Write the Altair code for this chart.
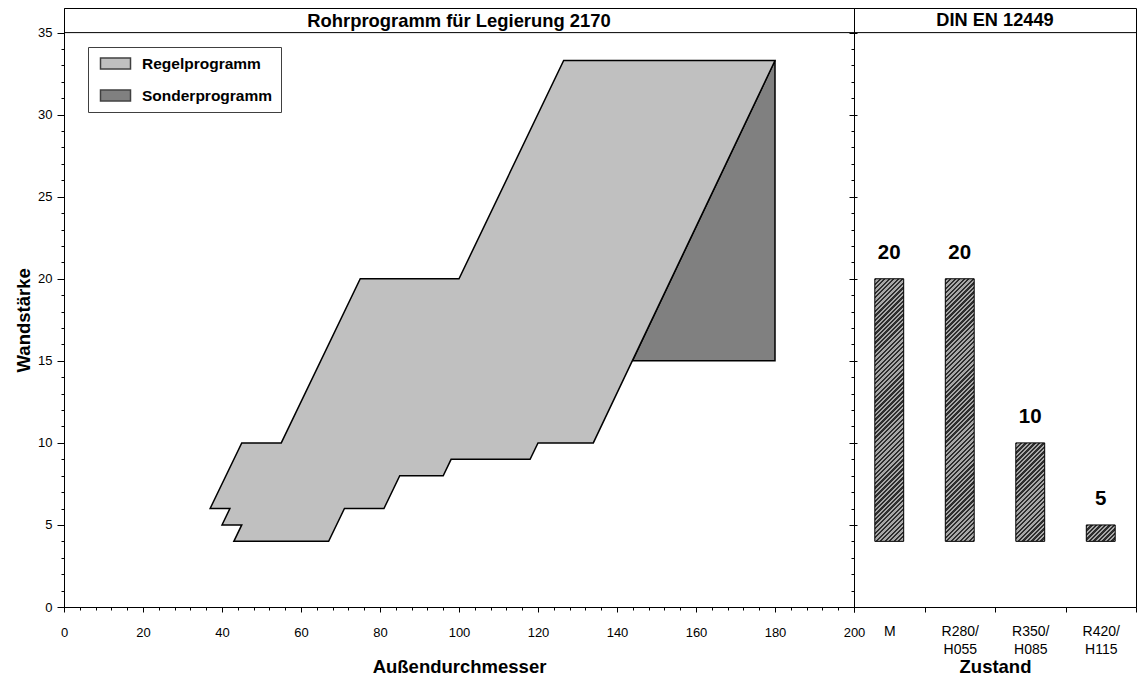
import math
import altair as alt
import pandas as pd

# ---------------- data ----------------
regel_x = [37, 42, 40, 45, 43, 67, 71, 81, 85, 96, 98, 118, 120, 134, 180, 126.5, 100, 75, 55, 45]
regel_y = [6, 6, 5, 5, 4, 4, 6, 6, 8, 8, 9, 9, 10, 10, 33.3, 33.3, 20, 20, 10, 10]
sonder_x = [143.9, 180, 180]
sonder_y = [15, 15, 33.3]
programs = ["Regelprogramm", "Sonderprogramm"]
program_colors = ["#c0c0c0", "#808080"]

zustand = ["M", "R280/H055", "R350/H085", "R420/H115"]
wall_max = [20, 20, 10, 5]
wall_min = [4, 4, 4, 4]

x_major = list(range(0, 201, 20))
x_minor = list(range(0, 201, 4))
y_major = list(range(0, 36, 5))
y_minor = list(range(0, 36, 1))

left_title = "Rohrprogramm für Legierung 2170"
right_title = "DIN EN 12449"
x_title = "Außendurchmesser"
y_title = "Wandstärke"
zustand_title = "Zustand"

# ---------------- layout / style ----------------
FONT = "Liberation Sans"
H = 599
W_LEFT = 790
W_RIGHT = 282
Y_DOMAIN = [0, 36.5]
PX_PER_UNIT = H / (Y_DOMAIN[1] - Y_DOMAIN[0])
BAR_BAND = 0.41
TITLE_SIZE = 18.5

poly = pd.DataFrame({
    "x": regel_x + sonder_x,
    "y": regel_y + sonder_y,
    "program": [programs[0]] * len(regel_x) + [programs[1]] * len(sonder_x),
    "order": list(range(len(regel_x))) + list(range(len(sonder_x))),
})
bars = pd.DataFrame({"zustand": zustand, "wmax": wall_max, "wmin": wall_min})
header_y = pd.DataFrame({"y": [y_major[-1]]})

xs = alt.Scale(domain=[0, 200], nice=False, zero=False)
ys = alt.Scale(domain=Y_DOMAIN, nice=False, zero=False)

legend = alt.Legend(
    title=None, orient="none", legendX=24, legendY=39, direction="vertical",
    symbolType="M-2,-0.72H2V0.72H-2Z", symbolSize=225,
    symbolStrokeColor="#404040", symbolStrokeWidth=1.5,
    symbolOffset=11, labelOffset=18, rowPadding=15, padding=8,
    strokeColor="#404040", fillColor="white",
    labelFontSize=15.5, labelFontWeight="bold", labelFont=FONT, labelColor="black",
)
fill_enc = alt.Fill("program:N", scale=alt.Scale(domain=programs, range=program_colors), legend=legend)

x_axis_major = alt.Axis(values=x_major, orient="bottom", tickSize=5, labelPadding=14, labelFlush=False,
                        labelOverlap=False, title=x_title, titlePadding=18, grid=False)
x_axis_minor = alt.Axis(values=x_minor, orient="bottom", tickSize=3, labels=False, domain=False,
                        title=None, grid=False)
y_axis_major = alt.Axis(values=y_major, orient="left", tickSize=7, labelPadding=5, labelFlush=False,
                        labelOverlap=False, title=y_title, titlePadding=4, grid=False,
                        titleY=(Y_DOMAIN[1] - y_major[-1] / 2) * PX_PER_UNIT)
y_axis_minor = alt.Axis(values=y_minor, orient="left", tickSize=3, labels=False, domain=False,
                        title=None, grid=False)
y_axis_cross = alt.Axis(values=y_major, orient="right", tickSize=3, labels=False, domain=False,
                        title=None, grid=False)

base_poly = alt.Chart(poly).mark_line(interpolate="linear-closed", stroke="black", strokeWidth=1.5,
                                      strokeJoin="miter")

sonder_layer = base_poly.transform_filter(alt.datum.program == programs[1]).encode(
    x=alt.X("x:Q", scale=xs, axis=x_axis_major),
    y=alt.Y("y:Q", scale=ys, axis=y_axis_major),
    order="order:Q",
    fill=fill_enc,
)
regel_layer = base_poly.transform_filter(alt.datum.program == programs[0]).encode(
    x=alt.X("x:Q", scale=xs, axis=x_axis_minor),
    y=alt.Y("y:Q", scale=ys, axis=y_axis_minor),
    order="order:Q",
    fill=fill_enc,
)
cross_layer = alt.Chart(header_y).mark_rule(color="black", strokeWidth=1).encode(
    y=alt.Y("y:Q", scale=ys, axis=y_axis_cross),
)
left_header = alt.Chart(pd.DataFrame({"t": [left_title]})).mark_text(
    font=FONT, fontSize=18.4, fontWeight="bold", color="black", baseline="middle", align="center"
).encode(x=alt.value(W_LEFT / 2), y=alt.value(12.5), text="t:N")

left = alt.layer(sonder_layer, regel_layer, cross_layer, left_header).resolve_axis(
    x="independent", y="independent"
).properties(width=W_LEFT, height=H)

# ---------------- right panel ----------------
def hatch(w, h, period=3.2, dark="#2e2e2e", light="#a8a8a8"):
    span = w + h
    den = w * w + h * h
    x2 = span * w / den
    y2 = span * h / den
    n = (span / math.sqrt(2)) / period
    step = 1.0 / n
    stops = []
    t = 0.0
    while t < 1.0 - 1e-9:
        t1 = min(t + step / 2, 1.0)
        t2 = min(t + step, 1.0)
        stops += [alt.GradientStop(color=dark, offset=round(t, 5)),
                  alt.GradientStop(color=dark, offset=round(t1, 5)),
                  alt.GradientStop(color=light, offset=round(t1, 5)),
                  alt.GradientStop(color=light, offset=round(t2, 5))]
        t += step
    return alt.LinearGradient(gradient="linear", stops=stops, x1=0, y1=0, x2=x2, y2=y2)

xb = alt.Scale(domain=zustand, paddingInner=0, paddingOuter=0)
x_axis_z = alt.Axis(orient="bottom", tickBand="extent", tickSize=5, labelAngle=0, labelPadding=12,
                    labelFontSize=14, labelLineHeight=18, title=zustand_title, titlePadding=1, grid=False,
                    labelExpr="indexof(datum.label,'/')>0 ? [substring(datum.label,0,indexof(datum.label,'/')+1), substring(datum.label,indexof(datum.label,'/')+1)] : datum.label")
y_axis_r = alt.Axis(values=y_major, orient="left", tickSize=5, labels=False, title=None, grid=False)
y_axis_r_minor = alt.Axis(values=y_minor, orient="left", tickSize=3, labels=False, domain=False,
                          title=None, grid=False)

bar_w = W_RIGHT / len(zustand) * BAR_BAND
bar_layers = []
for i, z in enumerate(zustand):
    hpx = (wall_max[i] - wall_min[i]) * PX_PER_UNIT
    enc = dict(
        x=alt.X("zustand:N", scale=xb, sort=zustand, axis=x_axis_z if i == 0 else None),
        y=alt.Y("wmax:Q", scale=ys, axis=y_axis_r if i == 0 else (y_axis_r_minor if i == 1 else None)),
        y2="wmin:Q",
    )
    bar_layers.append(
        alt.Chart(bars).transform_filter(alt.datum.zustand == z).mark_bar(
            fill=hatch(bar_w, hpx), stroke="black", strokeWidth=1, width=alt.RelativeBandSize(BAR_BAND)
        ).encode(**enc)
    )

bar_text = alt.Chart(bars).mark_text(font=FONT, fontSize=20.5, fontWeight="bold", color="black",
                                     baseline="alphabetic", dy=-20).encode(
    x=alt.X("zustand:N", scale=xb, sort=zustand, axis=None),
    y=alt.Y("wmax:Q", scale=ys, axis=None),
    text="wmax:Q",
)
right_rule = alt.Chart(header_y).mark_rule(color="black", strokeWidth=1).encode(
    y=alt.Y("y:Q", scale=ys, axis=None),
)
right_header = alt.Chart(pd.DataFrame({"t": [right_title]})).mark_text(
    font=FONT, fontSize=18.2, fontWeight="bold", color="black", baseline="middle", align="center"
).encode(x=alt.value(W_RIGHT / 2), y=alt.value(12.5), text="t:N")

right = alt.layer(*bar_layers, bar_text, right_rule, right_header).resolve_axis(
    x="independent", y="independent"
).properties(width=W_RIGHT, height=H)

chart = alt.hconcat(left, right, spacing=0, bounds="flush").properties(
    padding={"left": 6, "top": -1, "right": 0, "bottom": 0}
).configure_view(stroke="black", strokeWidth=1).configure_axis(
    domainColor="black", tickColor="black", labelColor="black", titleColor="black",
    labelFont=FONT, titleFont=FONT, labelFontSize=13, titleFontSize=TITLE_SIZE, titleFontWeight="bold",
    domainWidth=1, tickWidth=1,
)

chart.save("out.html", embed_options={"renderer": "svg", "actions": False})
